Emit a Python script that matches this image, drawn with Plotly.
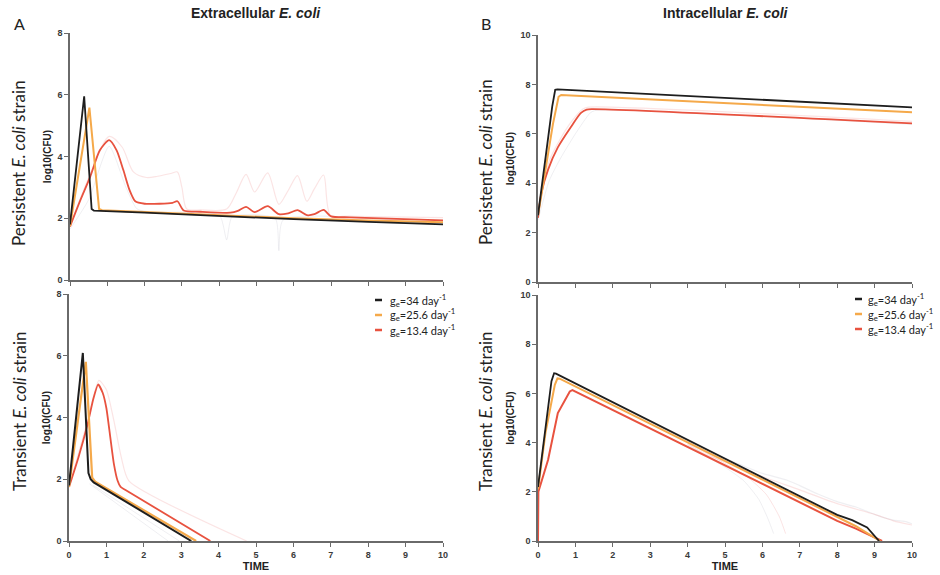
import plotly.graph_objects as go

W, H = 940, 575

# ---------------- data ----------------
# Panel A, top: Extracellular E. coli, persistent strain
ep_black_t = [0, 0.38, 0.58, 0.64, 2, 4, 6, 8, 10]
ep_black_v = [1.8, 5.95, 2.3, 2.25, 2.18, 2.07, 1.97, 1.88, 1.8]
ep_orange_t = [0, 0.52, 0.78, 0.86, 2, 4, 6, 8, 10]
ep_orange_v = [1.75, 5.58, 2.3, 2.26, 2.2, 2.1, 2.0, 1.93, 1.87]
ep_red_t = [0, 0.27, 0.54, 0.8, 1.05, 1.25, 1.43, 1.6, 1.75, 2.0, 2.4, 2.75, 2.88, 3.05, 3.5,
            4.3, 4.5, 4.72, 4.95, 5.3, 5.6, 5.85, 6.1, 6.35, 6.55, 6.8, 7.0, 7.5, 10]
ep_red_v = [1.73, 2.56, 3.34, 4.2, 4.53, 4.2, 3.56, 2.9, 2.55, 2.47, 2.47, 2.5, 2.55, 2.25, 2.21,
            2.18, 2.24, 2.37, 2.2, 2.39, 2.13, 2.16, 2.26, 2.1, 2.13, 2.27, 2.06, 2.03, 1.93]
ep_red_hi_t = [0, 0.5, 1.05, 1.4, 1.7, 2.05, 2.35, 2.7, 2.88, 3.0, 3.13, 3.5, 4.2, 4.45, 4.72,
               4.95, 5.3, 5.6, 5.85, 6.1, 6.35, 6.55, 6.8, 6.98, 7.5, 10]
ep_red_hi_v = [1.75, 3.3, 4.65, 4.3, 3.5, 3.32, 3.36, 3.45, 3.5, 3.0, 2.3, 2.27, 2.3, 2.8, 3.42,
               2.85, 3.47, 2.45, 2.9, 3.38, 2.55, 2.95, 3.4, 2.1, 2.07, 2.02]
ep_red_lo_t = [0, 0.5, 1.05, 1.5, 1.8, 2.2, 4.0, 4.2, 4.35, 5.5, 5.6, 5.72, 10]
ep_red_lo_v = [1.65, 2.6, 4.33, 3.0, 2.3, 2.2, 2.1, 1.3, 2.05, 2.0, 0.95, 1.95, 1.8]

# Panel B, top: Intracellular E. coli, persistent strain
ip_black_t = [0, 0.18, 0.38, 0.46, 0.52, 10]
ip_black_v = [2.7, 4.9, 7.1, 7.78, 7.8, 7.07]
ip_orange_t = [0, 0.2, 0.4, 0.55, 0.62, 10]
ip_orange_v = [2.7, 4.6, 6.4, 7.5, 7.57, 6.87]
ip_red_t = [0, 0.09, 0.27, 0.53, 0.89, 1.15, 1.3, 1.45, 10]
ip_red_v = [2.6, 3.6, 4.55, 5.45, 6.3, 6.85, 6.98, 7.0, 6.42]
ip_red_hi_t = [0, 0.3, 0.6, 0.9, 1.2, 1.35, 10]
ip_red_hi_v = [2.7, 4.9, 5.8, 6.5, 7.0, 7.08, 6.5]
ip_red_lo_t = [0, 0.3, 0.6, 1.0, 1.4, 1.55, 10]
ip_red_lo_v = [2.5, 4.1, 5.0, 6.0, 6.85, 6.95, 6.38]

# Panel A, bottom: Extracellular E. coli, transient strain
et_black_t = [0, 0.37, 0.52, 0.58, 0.66, 3.27]
et_black_v = [1.8, 6.09, 2.2, 2.0, 1.9, 0.0]
et_orange_t = [0, 0.45, 0.62, 0.7, 3.4]
et_orange_v = [1.75, 5.8, 2.05, 1.92, 0.0]
et_red_t = [0, 0.25, 0.5, 0.65, 0.78, 0.9, 1.0, 1.1, 1.2, 1.3, 1.38, 1.5, 3.78]
et_red_v = [1.75, 2.7, 3.8, 4.6, 5.07, 4.8, 4.3, 3.4, 2.5, 1.95, 1.75, 1.66, 0.0]
et_red_hi_t = [0, 0.5, 0.8, 1.0, 1.2, 1.4, 1.6, 4.75]
et_red_hi_v = [1.75, 3.9, 5.2, 4.9, 3.9, 2.7, 1.95, 0.0]
et_black_lo_t = [0.55, 2.65]
et_black_lo_v = [1.85, 0.0]
et_orange_lo_t = [0.65, 2.95]
et_orange_lo_v = [1.8, 0.0]

# Panel B, bottom: Intracellular E. coli, transient strain
it_black_t = [0, 0.2, 0.36, 0.43, 0.48, 8.0, 8.4, 8.8, 9.12]
it_black_v = [2.2, 4.6, 6.5, 6.82, 6.8, 1.06, 0.85, 0.55, 0.0]
it_orange_t = [0, 0.2, 0.45, 0.52, 0.58, 8.0, 8.5, 9.15]
it_orange_v = [2.1, 4.4, 6.35, 6.61, 6.6, 0.95, 0.6, 0.0]
it_red_t = [0, 0.01, 0.27, 0.53, 0.85, 0.92, 8.0, 8.5, 9.2]
it_red_v = [0.0, 2.0, 3.3, 5.2, 6.08, 6.13, 0.82, 0.5, 0.0]
it_gray_hi_t = [4.0, 4.5, 5.0, 5.5, 6.0, 6.65, 7.0, 7.5, 8.0, 8.5, 9.14, 9.5, 9.86, 10]
it_gray_hi_v = [4.05, 3.62, 3.35, 3.05, 2.75, 2.48, 2.25, 1.9, 1.6, 1.38, 1.0, 0.85, 0.78, 0.7]
it_pink_hi_t = [4.0, 4.5, 5.0, 6.0, 7.0, 8.0, 9.0, 9.5, 10]
it_pink_hi_v = [3.95, 3.5, 3.22, 2.62, 2.08, 1.52, 1.08, 0.82, 0.65]
it_lo1_t = [4.0, 5.0, 5.5, 5.9, 6.15, 6.3]
it_lo1_v = [3.9, 3.0, 2.45, 1.7, 0.9, 0.3]
it_lo2_t = [4.0, 5.0, 5.6, 6.1, 6.45, 6.62]
it_lo2_v = [4.0, 3.15, 2.6, 1.9, 1.0, 0.3]

series_names = ["g<sub>e</sub>=34 day<sup>-1</sup>",
                "g<sub>e</sub>=25.6 day<sup>-1</sup>",
                "g<sub>e</sub>=13.4 day<sup>-1</sup>"]

# ---------------- style ----------------
BLACK = "#1e1e1e"
ORANGE = "#f5a94a"
RED = "#e8523f"
FAINT_GRAY = "rgba(140,145,160,0.14)"
FAINT_PINK = "rgba(235,130,130,0.22)"
AX = "#6a6a6a"

fig = go.Figure()


def line(t, v, ax, color, width=2.0, shape="linear", smooth=None):
    xa, ya = ax
    kw = dict(color=color, width=width, shape=shape)
    if smooth is not None:
        kw["smoothing"] = smooth
    fig.add_trace(go.Scatter(x=t, y=v, xaxis=xa, yaxis=ya, mode="lines",
                             line=kw, showlegend=False, hoverinfo="skip"))


TL, TR, BL, BR = ("x", "y"), ("x2", "y2"), ("x3", "y3"), ("x4", "y4")

# faint bands first
line(ep_red_hi_t, ep_red_hi_v, TL, FAINT_PINK, 1.2, "spline", 0.8)
line(ep_red_lo_t, ep_red_lo_v, TL, FAINT_GRAY, 1.0, "spline", 0.6)
line(ip_red_hi_t, ip_red_hi_v, TR, FAINT_PINK, 1.2, "spline", 0.6)
line(ip_red_lo_t, ip_red_lo_v, TR, FAINT_GRAY, 1.0, "spline", 0.6)
line(et_red_hi_t, et_red_hi_v, BL, FAINT_PINK, 1.2, "spline", 0.6)
line(et_black_lo_t, et_black_lo_v, BL, FAINT_GRAY, 1.0)
line(et_orange_lo_t, et_orange_lo_v, BL, FAINT_GRAY, 1.0)
line(it_gray_hi_t, it_gray_hi_v, BR, FAINT_GRAY, 1.2, "spline", 0.6)
line(it_pink_hi_t, it_pink_hi_v, BR, FAINT_PINK, 1.2, "spline", 0.6)
line(it_lo1_t, it_lo1_v, BR, FAINT_GRAY, 1.0, "spline", 0.6)
line(it_lo2_t, it_lo2_v, BR, FAINT_PINK, 1.0, "spline", 0.6)

# main curves
line(ep_red_t, ep_red_v, TL, RED, 1.8, "spline", 0.7)
line(ep_orange_t, ep_orange_v, TL, ORANGE, 2.0)
line(ep_black_t, ep_black_v, TL, BLACK, 1.8)

line(ip_red_t, ip_red_v, TR, RED, 1.8, "spline", 0.8)
line(ip_orange_t, ip_orange_v, TR, ORANGE, 2.0)
line(ip_black_t, ip_black_v, TR, BLACK, 1.8)

line(et_red_t, et_red_v, BL, RED, 1.8, "spline", 0.5)
line(et_orange_t, et_orange_v, BL, ORANGE, 2.2)
line(et_black_t, et_black_v, BL, BLACK, 2.0)

line(it_red_t, it_red_v, BR, RED, 2.0)
line(it_orange_t, it_orange_v, BR, ORANGE, 2.0)
line(it_black_t, it_black_v, BR, BLACK, 1.8)


def px_x(p):
    return p / W


def px_y(p):
    return 1 - p / H


tickfont = dict(family="Liberation Sans, Arial, sans-serif", size=9, color="#3a3a3a", weight="bold")
common_x = dict(range=[0, 10], tickvals=list(range(11)), showline=True, linecolor=AX, linewidth=1.5,
                ticks="outside", ticklen=4, tickcolor=AX, tickwidth=1.2, showgrid=False,
                zeroline=False, tickfont=tickfont, fixedrange=True, automargin=False)
common_y = dict(showline=True, linecolor=AX, linewidth=1.5, ticks="outside", ticklen=4,
                tickcolor=AX, tickwidth=1.2, showgrid=False, zeroline=False, tickfont=tickfont,
                fixedrange=True, automargin=False,
                title=dict(text="log10(CFU)", font=dict(family="Liberation Sans, Arial, sans-serif",
                                                        size=10, color="#222", weight="bold"),
                           standoff=4))
xtitle = dict(text="TIME", font=dict(family="Liberation Sans, Arial, sans-serif", size=11,
                                     color="#222", weight="bold"), standoff=2)

fig.update_layout(
    width=W, height=H, margin=dict(l=0, r=0, t=0, b=0, autoexpand=False),
    paper_bgcolor="white", plot_bgcolor="white", showlegend=False,
    xaxis=dict(common_x, domain=[px_x(70), px_x(443)], anchor="y", showticklabels=False),
    yaxis=dict(common_y, domain=[px_y(280), px_y(33)], anchor="x", range=[0, 8],
               tickvals=[0, 2, 4, 6, 8]),
    xaxis2=dict(common_x, domain=[px_x(538), px_x(912)], anchor="y2", showticklabels=False),
    yaxis2=dict(common_y, domain=[px_y(282), px_y(35)], anchor="x2", range=[0, 10],
                tickvals=[0, 2, 4, 6, 8, 10]),
    xaxis3=dict(common_x, domain=[px_x(69), px_x(443)], anchor="y3", title=xtitle),
    yaxis3=dict(common_y, domain=[px_y(541), px_y(294)], anchor="x3", range=[0, 8],
                tickvals=[0, 2, 4, 6, 8]),
    xaxis4=dict(common_x, domain=[px_x(538), px_x(912)], anchor="y4", title=xtitle),
    yaxis4=dict(common_y, domain=[px_y(541), px_y(295)], anchor="x4", range=[0, 10],
                tickvals=[0, 2, 4, 6, 8, 10]),
)

ann = []
title_font = dict(family="Liberation Sans, Arial, sans-serif", size=14, color="#222", weight="bold")
ann.append(dict(text="Extracellular <i>E. coli</i>", x=px_x(256), y=px_y(13), font=title_font))
ann.append(dict(text="Intracellular <i>E. coli</i>", x=px_x(726), y=px_y(13), font=title_font))
letter_font = dict(family="Lato, Noto Sans, sans-serif", size=16, color="#222")
ann.append(dict(text="A", x=px_x(19), y=px_y(23), font=letter_font))
ann.append(dict(text="B", x=px_x(486), y=px_y(23), font=letter_font))
row_font = dict(family="Lato, Noto Sans, sans-serif", size=17, color="#222")
for xc, yc, lab in [(19, 163, "Persistent"), (19, 411, "Transient"),
                    (485, 162, "Persistent"), (485, 411, "Transient")]:
    ann.append(dict(text=f"{lab} <i>E. coli</i> strain", x=px_x(xc), y=px_y(yc),
                    textangle=-90, font=row_font))

leg_font = dict(family="Lato, Noto Sans, sans-serif", size=11, color="#222")
shapes = []
colors = [BLACK, ORANGE, RED]
for lx, tx, ys in [(375, 388, [300, 315, 330]), (855, 866, [299, 314, 329])]:
    for name, col, yy in zip(series_names, colors, ys):
        ann.append(dict(text=name, x=px_x(tx), y=px_y(yy), xanchor="left", font=leg_font))
        shapes.append(dict(type="line", xref="paper", yref="paper",
                           x0=px_x(lx), x1=px_x(lx + 7), y0=px_y(yy), y1=px_y(yy),
                           line=dict(color=col, width=2.5)))

for a in ann:
    a.setdefault("xref", "paper")
    a.setdefault("yref", "paper")
    a.setdefault("showarrow", False)
    a.setdefault("xanchor", "center")
    a.setdefault("yanchor", "middle")
fig.update_layout(annotations=ann, shapes=shapes)

fig.write_html("out.html", config={"displayModeBar": False},
               post_script="document.body.style.margin='0';document.body.style.overflow='hidden';")
